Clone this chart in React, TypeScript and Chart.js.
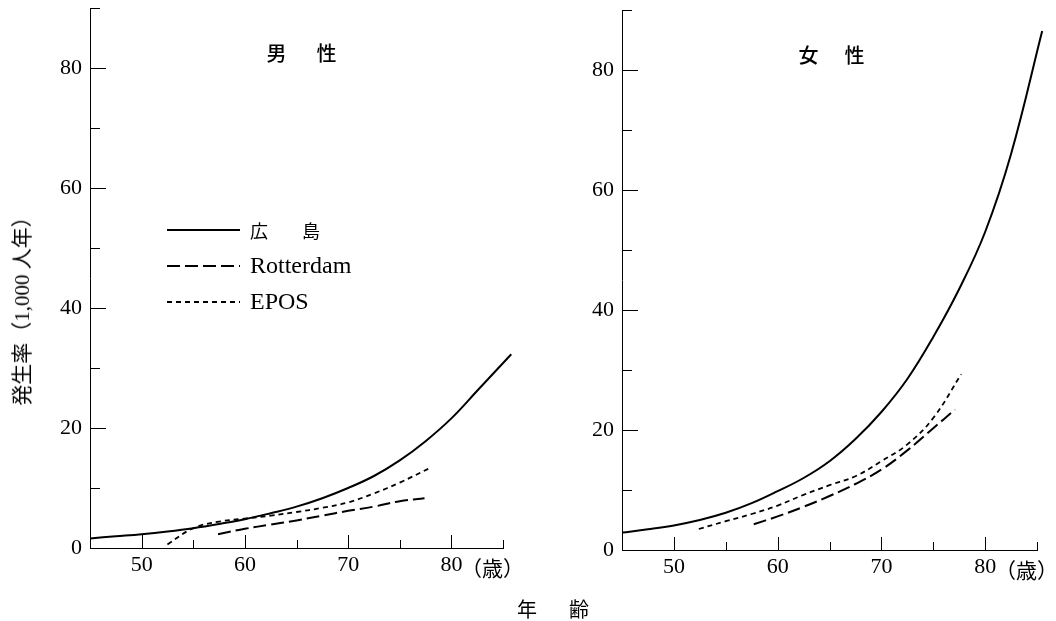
import React, { useEffect, useRef } from 'react';
import { Chart, registerables } from 'chart.js';

Chart.register(...registerables);

// ---- Data (age in years, incidence per 1,000 person-years) ----
// 男性 (male)
const maleHiroshimaAge = [45, 47.5, 50, 52.5, 55, 57.5, 60, 62.5, 65, 67.5, 70, 72.5, 75, 77.5, 80, 82.5, 85.8];
const maleHiroshimaRate = [1.6, 1.95, 2.3, 2.75, 3.3, 4.0, 4.8, 5.8, 6.9, 8.3, 10.0, 12.0, 14.6, 17.8, 21.6, 26.2, 32.3];
const maleRotterdamAge = [57.4, 60, 62.5, 65, 67.5, 70, 72.5, 75, 77.4];
const maleRotterdamRate = [2.3, 3.2, 3.9, 4.6, 5.4, 6.2, 6.9, 7.8, 8.3];
const maleEposAge = [52.5, 55, 57.5, 60, 62.5, 65, 67.5, 70, 72.5, 75, 78];
const maleEposRate = [0.6, 3.3, 4.4, 4.9, 5.4, 6.0, 6.7, 7.6, 9.1, 10.9, 13.4];

// 女性 (female)
const femaleHiroshimaAge = [45, 47.5, 50, 52.5, 55, 57.5, 60, 62.5, 65, 67.5, 70, 72.5, 75, 77.5, 80, 82.5, 85.5];
const femaleHiroshimaRate = [2.9, 3.45, 4.1, 5.0, 6.2, 7.8, 9.8, 12.0, 14.8, 18.5, 23.0, 28.5, 35.5, 43.5, 53.0, 66.0, 86.5];
const femaleRotterdamAge = [57.7, 60, 62.5, 65, 67.5, 70, 72.5, 75, 77.1];
const femaleRotterdamRate = [4.3, 5.6, 7.2, 9.0, 11.0, 13.4, 16.6, 20.3, 23.4];
const femaleEposAge = [52.4, 55, 57.5, 60, 62.5, 65, 67.5, 70, 72.5, 75, 77.7];
const femaleEposRate = [3.5, 4.8, 6.0, 7.4, 9.2, 10.8, 12.3, 14.8, 17.6, 22.0, 29.3];

const seriesLabels = ['広　島', 'Rotterdam', 'EPOS'];
const xTickLabels = [50, 60, 70, 80];
const yTickLabels = [0, 20, 40, 60, 80];

const panelTitles = ['男　性', '女　性'];
const yAxisTitle = '発生率（1,000 人年）';
const xAxisTitle = '年　齢';
const ageUnit = '（歳）';

const SERIF = '"Liberation Serif", "Times New Roman", serif';
const CJK = '"Noto Sans CJK JP", sans-serif';

function toPoints(ages: number[], rates: number[]) {
  return ages.map((a, i) => ({ x: a, y: rates[i] }));
}

function makeDatasets(hA: number[], hR: number[], rA: number[], rR: number[], eA: number[], eR: number[]) {
  const common = {
    borderColor: '#000',
    backgroundColor: '#000',
    pointRadius: 0,
    pointHoverRadius: 0,
    fill: false,
    tension: 0.4,
    clip: false as const,
  };
  return [
    { ...common, label: seriesLabels[0], data: toPoints(hA, hR), borderWidth: 2, borderDash: [] as number[] },
    { ...common, label: seriesLabels[1], data: toPoints(rA, rR), borderWidth: 2, borderDash: [13, 5] },
    { ...common, label: seriesLabels[2], data: toPoints(eA, eR), borderWidth: 1.8, borderDash: [5, 4] },
  ];
}

const innerTicks = {
  id: 'innerTicks',
  afterDraw(chart: any) {
    const { ctx, chartArea } = chart;
    const x = chart.scales.x;
    const y = chart.scales.y;
    ctx.save();
    ctx.strokeStyle = '#000';
    ctx.lineWidth = 1;
    ctx.setLineDash([]);
    y.ticks.forEach((t: any) => {
      if (t.value === 0) return;
      const py = Math.round(y.getPixelForValue(t.value)) + 0.5;
      const len = yTickLabels.includes(t.value) ? 16 : 10;
      ctx.beginPath();
      ctx.moveTo(chartArea.left, py);
      ctx.lineTo(chartArea.left + len, py);
      ctx.stroke();
    });
    x.ticks.forEach((t: any) => {
      if (t.value === x.min) return;
      const px = Math.round(x.getPixelForValue(t.value)) + 0.5;
      const len = t.value % 10 === 0 ? 13 : 8;
      ctx.beginPath();
      ctx.moveTo(px, chartArea.bottom);
      ctx.lineTo(px, chartArea.bottom - len);
      ctx.stroke();
    });
    ctx.restore();
  },
};

const inlineLegend = {
  id: 'inlineLegend',
  afterDraw(chart: any, _args: any, opts: any) {
    if (!opts || !opts.show) return;
    const { ctx } = chart;
    ctx.save();
    chart.data.datasets.forEach((ds: any, i: number) => {
      const yy = opts.y + i * opts.gap;
      ctx.strokeStyle = '#000';
      ctx.lineWidth = ds.borderWidth;
      ctx.setLineDash(ds.borderDash || []);
      ctx.beginPath();
      ctx.moveTo(opts.x, yy);
      ctx.lineTo(opts.x + opts.len, yy);
      ctx.stroke();
      ctx.setLineDash([]);
      ctx.fillStyle = '#000';
      ctx.textBaseline = 'middle';
      ctx.textAlign = 'left';
      const isCJK = /[\u3000-\u9fff]/.test(ds.label);
      if (isCJK) {
        ctx.font = `18px ${CJK}`;
        (ctx as any).letterSpacing = '8px';
      } else {
        ctx.font = `24px ${SERIF}`;
        (ctx as any).letterSpacing = '0px';
      }
      ctx.fillText(ds.label, opts.x + opts.len + 10, yy + 1);
    });
    ctx.restore();
  },
};

type PanelProps = {
  left: number;
  top: number;
  width: number;
  height: number;
  padding: { left: number; right: number; top: number; bottom: number };
  datasets: any[];
  showLegend: boolean;
};

function Panel({ left, top, width, height, padding, datasets, showLegend }: PanelProps) {
  const ref = useRef<HTMLCanvasElement>(null);
  useEffect(() => {
    if (!ref.current) return;
    const tickFont = { family: SERIF, size: 22 };
    const chart = new Chart(ref.current, {
      type: 'line',
      data: { datasets },
      options: {
        responsive: false,
        animation: false,
        devicePixelRatio: 1,
        events: [],
        layout: { padding },
        plugins: {
          legend: { display: false },
          tooltip: { enabled: false },
          title: { display: false },
          // @ts-ignore
          inlineLegend: { show: showLegend, x: 167, len: 73, y: 230, gap: 36 },
        },
        scales: {
          x: {
            type: 'linear',
            min: 45,
            max: 85,
            grid: { display: false, drawTicks: false },
            border: { display: true, color: '#000', width: 1 },
            ticks: {
              stepSize: 5,
              autoSkip: false,
              maxRotation: 0,
              minRotation: 0,
              padding: 4,
              color: '#000',
              font: tickFont,
              callback: (v: any) => (xTickLabels.includes(Number(v)) ? String(v) : ''),
            },
            afterFit: (s: any) => {
              s.height = 40;
              s.paddingLeft = 0;
              s.paddingRight = 0;
            },
          },
          y: {
            type: 'linear',
            min: 0,
            max: 90,
            grid: { display: false, drawTicks: false },
            border: { display: true, color: '#000', width: 1 },
            ticks: {
              stepSize: 10,
              autoSkip: false,
              padding: 8,
              color: '#000',
              font: tickFont,
              callback: (v: any) => (yTickLabels.includes(Number(v)) ? String(v) : ''),
            },
            afterFit: (s: any) => {
              s.width = 50;
              s.paddingTop = 0;
              s.paddingBottom = 0;
            },
          },
        },
      },
      plugins: [innerTicks, inlineLegend],
    } as any);
    return () => chart.destroy();
  }, []);
  return (
    <canvas
      ref={ref}
      width={width}
      height={height}
      style={{ position: 'absolute', left, top, width, height }}
    />
  );
}

const textBase: React.CSSProperties = {
  position: 'absolute',
  whiteSpace: 'nowrap',
  color: '#000',
  lineHeight: 1,
  transform: 'translate(-50%, -50%)',
};

export default function App() {
  const maleSets = makeDatasets(
    maleHiroshimaAge, maleHiroshimaRate,
    maleRotterdamAge, maleRotterdamRate,
    maleEposAge, maleEposRate,
  );
  const femaleSets = makeDatasets(
    femaleHiroshimaAge, femaleHiroshimaRate,
    femaleRotterdamAge, femaleRotterdamRate,
    femaleEposAge, femaleEposRate,
  );
  return (
    <div style={{ position: 'absolute', left: 0, top: 0, width: 1056, height: 621, background: '#fff', overflow: 'hidden' }}>
      <Panel
        left={0}
        top={0}
        width={530}
        height={600}
        padding={{ left: 40, right: 27, top: 8, bottom: 12 }}
        datasets={maleSets}
        showLegend={true}
      />
      <Panel
        left={530}
        top={2}
        width={526}
        height={600}
        padding={{ left: 42, right: 19, top: 8, bottom: 12 }}
        datasets={femaleSets}
        showLegend={false}
      />
      <div style={{ ...textBase, left: 304, top: 52, font: `500 20px ${CJK}`, letterSpacing: '5px' }}>{panelTitles[0]}</div>
      <div style={{ ...textBase, left: 833, top: 54, font: `500 20px ${CJK}`, letterSpacing: '3px' }}>{panelTitles[1]}</div>
      <div style={{ ...textBase, left: 20, top: 306, font: `21px "Liberation Serif", ${CJK}`, transform: 'translate(-50%, -50%) rotate(-90deg)' }}>{yAxisTitle}</div>
      <div style={{ ...textBase, left: 556, top: 608, font: `20px ${CJK}`, letterSpacing: '6px' }}>{xAxisTitle}</div>
      <div style={{ ...textBase, transform: 'translate(0, -50%)', left: 461, top: 567, font: `21px ${CJK}` }}>{ageUnit}</div>
      <div style={{ ...textBase, transform: 'translate(0, -50%)', left: 995, top: 569, font: `21px ${CJK}` }}>{ageUnit}</div>
    </div>
  );
}
